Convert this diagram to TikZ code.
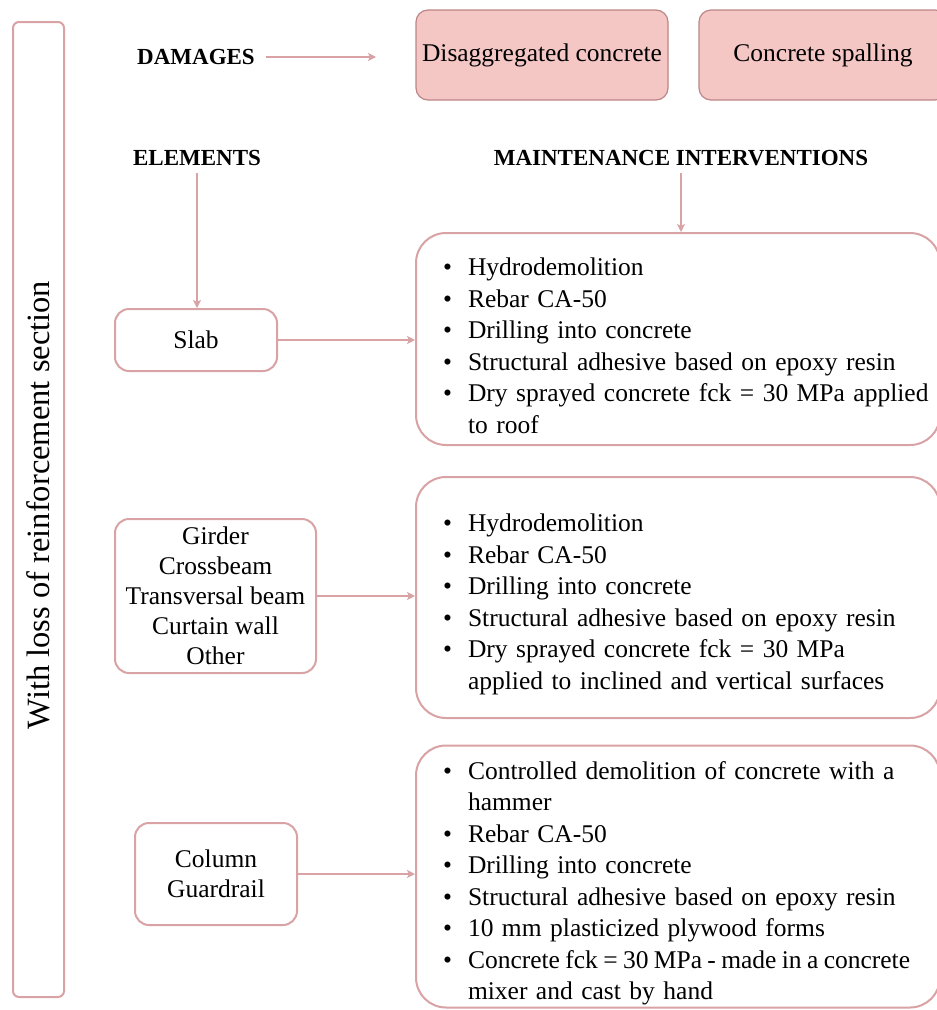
\documentclass[tikz,border=0pt]{standalone}
\usepackage{fontspec}
\setmainfont{Liberation Serif}
\usepackage{tikz}
\usetikzlibrary{arrows.meta}
\definecolor{roseline}{HTML}{D9A2A4}
\definecolor{rosefill}{HTML}{F4C7C5}
\definecolor{rosedark}{HTML}{BC8587}
\newcommand{\bulletlist}[1]{\begin{list}{\textbullet}{\setlength{\leftmargin}{47pt}\setlength{\rightmargin}{-30pt}\setlength{\labelsep}{16pt}\setlength{\labelwidth}{20pt}\setlength{\topsep}{0pt}\setlength{\partopsep}{0pt}\setlength{\itemsep}{0pt}\setlength{\parsep}{0pt}}\raggedright #1\end{list}}
\tikzset{
  damagebox/.style={draw=rosedark, line width=1.2pt, fill=rosefill, rounded corners=12pt, font=\fontsize{25.5}{30}\selectfont},
  elembox/.style={draw=roseline, line width=2pt, fill=white, rounded corners=14pt, align=center, font=\fontsize{25.5}{30}\selectfont},
  listbox/.style={draw=roseline, line width=2pt, fill=white, rounded corners=30pt, text width=514pt, align=left, inner xsep=5pt, inner ysep=0pt, font=\fontsize{25.5}{31.5}\selectfont},
  header/.style={font=\fontsize{23}{27}\selectfont\bfseries},
  link/.style={draw=roseline, line width=1.2pt, -{Stealth[length=8pt,width=8pt,inset=2pt]}}
}

\begin{document}
\begin{tikzpicture}[x=1pt, y=-1pt]
    \useasboundingbox (0,0) rectangle (937,1010);
    % side label
    \node[draw=roseline, line width=2pt, rounded corners=6pt, minimum width=51pt, minimum height=975pt] (sidebox) at (38.5,509.5) {};
    \node[rotate=90, font=\fontsize{32.5}{36}\selectfont] (sidetext) at (38,505) {With loss of reinforcement section};
    % damages row
    \node[header] (damages) at (196,57) {DAMAGES};
    \coordinate (damend) at (376,57);
    \node[damagebox, minimum width=252pt, minimum height=90pt] (disagg) at (542,55) {Disaggregated concrete};
    \node[damagebox, minimum width=248pt, minimum height=90pt] (spalling) at (823,55) {Concrete spalling};
    \draw[link, shorten <=8pt] (damages.east) -- (damend);
    % headers
    \node[header] (elements) at (197,158) {ELEMENTS};
    \node[header] (interv) at (681,158) {MAINTENANCE INTERVENTIONS};
    % slab
    \node[elembox, minimum width=162pt, minimum height=62pt] (slab) at (196,340) {Slab};
    \node[listbox, minimum height=212pt] (slablist) at (678,339) {\bulletlist{
        \item Hydrodemolition
        \item Rebar CA-50
        \item Drilling into concrete
        \item Structural adhesive based on epoxy resin
        \item Dry sprayed concrete fck = 30 MPa applied\\to roof}};
    % girder
    \node[elembox, minimum width=201pt, minimum height=154pt] (girder) at (215.5,596) {Girder\\Crossbeam\\Transversal beam\\Curtain wall\\Other};
    \node[listbox, minimum height=241pt] (girderlist) at (678,597.5) {\bulletlist{
        \item Hydrodemolition
        \item Rebar CA-50
        \item Drilling into concrete
        \item Structural adhesive based on epoxy resin
        \item Dry sprayed concrete fck = 30 MPa\\applied to inclined and vertical surfaces}};
    % column
    \node[elembox, minimum width=162pt, minimum height=102pt] (column) at (216,874) {Column\\Guardrail};
    \node[listbox, minimum height=262pt] (columnlist) at (678,876.5) {\bulletlist{
        \item Controlled demolition of concrete with a\\hammer
        \item Rebar CA-50
        \item Drilling into concrete
        \item Structural adhesive based on epoxy resin
        \item 10 mm plasticized plywood forms
        \item {\spaceskip=0.21em Concrete fck = 30 MPa - made in a concrete}\\mixer and cast by hand}};
    % arrows
    \draw[link, shorten <=4pt] (elements.south) -- (elements.south |- slab.north);
    \draw[link, shorten <=4pt] (interv.south) -- (interv.south |- slablist.north);
    \draw[link] (slab.east) -- (slab.east -| slablist.west);
    \draw[link] (girder.east) -- (girder.east -| girderlist.west);
    \draw[link] (column.east) -- (column.east -| columnlist.west);
\end{tikzpicture}
\end{document}
